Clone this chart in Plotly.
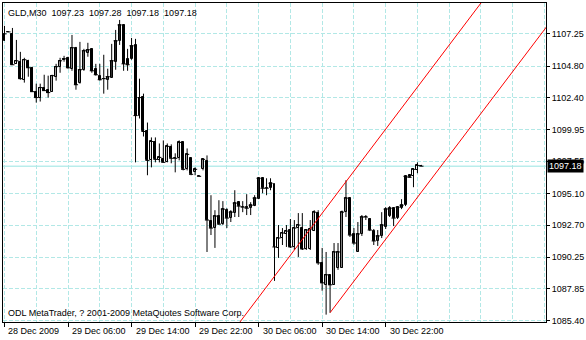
import plotly.graph_objects as go

opens = [1106.72, 1107.40, 1107.25, 1104.97, 1105.13, 1103.76, 1105.20, 1104.67, 1102.85, 1102.40,
         1103.16, 1103.00, 1102.85, 1103.99, 1104.75, 1105.28, 1105.43, 1104.60, 1106.19, 1103.54,
         1104.52, 1105.81, 1106.11, 1104.60, 1104.07, 1103.84, 1103.76, 1103.91, 1105.13, 1106.72,
         1107.93, 1105.35, 1105.35, 1106.41, 1101.03, 1102.47, 1099.82, 1097.62, 1098.99, 1097.62,
         1097.70, 1097.47, 1098.61, 1097.78, 1097.78, 1098.99, 1096.94, 1097.78, 1096.71, 1096.41,
         1096.94, 1097.55, 1093.00, 1092.47, 1093.38, 1092.77, 1093.83, 1093.23, 1093.61, 1094.44,
         1094.06, 1094.06, 1093.98, 1094.14, 1094.67, 1096.26, 1095.50, 1095.50, 1095.81, 1090.96,
         1091.71, 1092.02, 1092.32, 1091.03, 1092.47, 1092.47, 1090.88, 1090.88, 1092.24, 1093.61,
         1089.82, 1088.15, 1088.91, 1088.15, 1089.44, 1089.44, 1093.68, 1094.75, 1092.02, 1090.65,
         1092.02, 1093.31, 1093.16, 1092.24, 1091.49, 1091.87, 1092.55, 1093.38, 1093.98, 1093.23,
         1093.98, 1094.21, 1096.49, 1096.41, 1096.86, 1097.23]
highs = [1107.86, 1107.42, 1107.70, 1106.79, 1105.88, 1105.43, 1105.28, 1104.75, 1103.46, 1103.46,
         1104.14, 1104.07, 1104.14, 1104.97, 1105.43, 1105.58, 1105.51, 1107.17, 1106.26, 1106.64,
         1106.11, 1106.57, 1106.11, 1104.97, 1104.97, 1105.66, 1104.60, 1106.49, 1107.55, 1108.31,
         1108.00, 1106.11, 1106.94, 1106.87, 1103.84, 1102.70, 1100.50, 1099.37, 1099.37, 1098.91,
         1099.14, 1098.91, 1098.84, 1098.16, 1099.14, 1098.99, 1098.53, 1097.78, 1097.09, 1096.45,
         1097.78, 1098.00, 1094.97, 1093.83, 1094.59, 1094.52, 1093.98, 1093.83, 1095.35, 1094.44,
         1094.52, 1095.05, 1094.44, 1094.97, 1096.33, 1096.33, 1096.26, 1096.26, 1095.81, 1092.70,
         1092.47, 1092.70, 1093.16, 1093.08, 1093.61, 1093.61, 1092.40, 1093.08, 1093.83, 1093.83,
         1090.96, 1090.65, 1088.91, 1091.33, 1091.33, 1093.80, 1096.11, 1094.75, 1092.47, 1092.93,
         1093.46, 1093.46, 1093.23, 1092.40, 1092.32, 1093.68, 1094.06, 1094.14, 1094.06, 1094.06,
         1094.67, 1096.49, 1096.56, 1097.02, 1097.47, 1097.28]
lows = [1106.72, 1107.38, 1104.90, 1104.97, 1103.76, 1103.54, 1103.99, 1102.85, 1102.02, 1102.10,
        1102.93, 1102.40, 1102.85, 1103.69, 1104.29, 1105.13, 1104.60, 1104.44, 1103.00, 1103.46,
        1104.44, 1105.51, 1104.29, 1104.07, 1103.69, 1102.70, 1103.00, 1103.91, 1104.52, 1106.41,
        1104.44, 1104.44, 1105.28, 1097.47, 1100.81, 1099.44, 1096.49, 1097.09, 1097.47, 1097.47,
        1097.47, 1097.47, 1097.40, 1096.71, 1097.62, 1096.86, 1096.86, 1096.49, 1096.49, 1096.37,
        1096.86, 1090.65, 1091.94, 1090.96, 1092.70, 1092.70, 1092.47, 1092.93, 1093.31, 1093.31,
        1093.68, 1093.46, 1093.46, 1094.14, 1094.67, 1095.12, 1094.97, 1095.35, 1088.45, 1090.20,
        1091.18, 1091.03, 1090.96, 1090.80, 1090.27, 1090.80, 1090.80, 1090.80, 1092.24, 1089.67,
        1087.70, 1085.88, 1086.03, 1088.15, 1089.29, 1089.44, 1093.31, 1091.79, 1091.20, 1090.65,
        1091.87, 1093.08, 1092.24, 1091.18, 1091.11, 1091.71, 1092.40, 1093.31, 1092.62, 1093.16,
        1093.91, 1094.14, 1096.33, 1095.58, 1096.64, 1097.18]
closes = [1107.25, 1107.40, 1104.90, 1105.20, 1103.84, 1105.28, 1104.67, 1102.85, 1102.40, 1103.16,
          1102.93, 1102.78, 1104.07, 1104.75, 1105.20, 1105.35, 1104.67, 1106.19, 1103.38, 1104.52,
          1105.96, 1106.04, 1104.44, 1104.14, 1103.76, 1103.84, 1103.99, 1105.20, 1106.72, 1107.93,
          1104.97, 1104.90, 1106.34, 1101.03, 1102.40, 1099.82, 1097.62, 1099.06, 1097.70, 1097.85,
          1097.47, 1098.69, 1097.78, 1097.78, 1098.99, 1096.94, 1098.08, 1096.56, 1096.94, 1096.41,
          1097.70, 1093.08, 1092.47, 1093.38, 1092.77, 1093.91, 1093.23, 1093.68, 1094.37, 1094.14,
          1094.06, 1093.98, 1094.21, 1094.75, 1096.26, 1095.50, 1095.50, 1095.88, 1091.03, 1091.71,
          1092.09, 1092.24, 1091.03, 1092.47, 1092.70, 1090.88, 1092.32, 1092.40, 1093.68, 1089.82,
          1088.30, 1088.91, 1088.15, 1090.65, 1090.65, 1093.68, 1094.75, 1091.94, 1091.33, 1092.02,
          1093.31, 1093.31, 1092.32, 1091.49, 1091.87, 1092.70, 1093.91, 1093.98, 1093.23, 1094.06,
          1094.21, 1096.41, 1096.33, 1096.94, 1097.24, 1097.18]
bars = list(range(len(opens)))

time_label_bars = [0, 16, 32, 48, 64, 80, 96]
time_labels = ["28 Dec 2009", "29 Dec 06:00", "29 Dec 14:00", "29 Dec 22:00",
               "30 Dec 06:00", "30 Dec 14:00", "30 Dec 22:00"]
price_ticks = [1107.25, 1104.80, 1102.40, 1099.95, 1097.55, 1095.10, 1092.70, 1090.25, 1087.85, 1085.40]
price_labels = ["1107.25", "1104.80", "1102.40", "1099.95", "1097.55", "1095.10", "1092.70",
                "1090.25", "1087.85", "1085.40"]

channel_upper_bars = [55, 125]
channel_upper_vals = [1083.60, 1111.60]
channel_lower_bars = [82, 137]
channel_lower_vals = [1086.03, 1107.98]

last_price = 1097.18
title_text = "GLD,M30&nbsp;&nbsp;1097.23&nbsp;&nbsp;1097.28&nbsp;&nbsp;1097.18&nbsp;&nbsp;1097.18"
copyright_text = "ODL MetaTrader, ? 2001-2009 MetaQuotes Software Corp."

FONT = "Liberation Sans, Arial, sans-serif"
GRID = "#b2e8e6"
DASH = "4px,2px"

# derived drawing tables (built from the OHLC lists above)
body_base = [min(o, c) for o, c in zip(opens, closes)]
body_len = [abs(c - o) for o, c in zip(opens, closes)]
body_fill = ["white" if c >= o else "black" for o, c in zip(opens, closes)]
wick_x, wick_y = [], []
for b, h, l in zip(bars, highs, lows):
    wick_x += [b, b, None]
    wick_y += [l, h, None]

fig = go.Figure()
fig.add_trace(go.Scatter(x=wick_x, y=wick_y, mode="lines", line=dict(color="black", width=1),
                         showlegend=False, hoverinfo="skip"))
fig.add_trace(go.Bar(x=bars, y=body_len, base=body_base, width=0.5,
                     marker=dict(color=body_fill, line=dict(color="black", width=1)),
                     showlegend=False, hoverinfo="skip"))
fig.add_trace(go.Scatter(x=bars, y=closes, mode="markers",
                         marker=dict(symbol="line-ew", size=3, line=dict(color="black", width=1)),
                         showlegend=False, hoverinfo="skip"))
fig.add_trace(go.Scatter(x=channel_upper_bars, y=channel_upper_vals, mode="lines",
                         line=dict(color="red", width=1), showlegend=False, hoverinfo="skip"))
fig.add_trace(go.Scatter(x=channel_lower_bars, y=channel_lower_vals, mode="lines",
                         line=dict(color="red", width=1), showlegend=False, hoverinfo="skip"))

fig.add_shape(type="line", xref="paper", x0=0, x1=1, yref="y", y0=last_price, y1=last_price,
              line=dict(color="#98e4e2", width=1), layer="below")

annotations = []
for b, t in zip(time_label_bars, time_labels):
    annotations.append(dict(x=b, y=0, xref="x", yref="paper", text=t, showarrow=False,
                            xanchor="left", yanchor="top", xshift=2, yshift=-2,
                            font=dict(family=FONT, size=9, color="black")))
annotations.append(dict(x=0, y=1, xref="paper", yref="paper", text=title_text, showarrow=False,
                        xanchor="left", yanchor="top", xshift=3, yshift=-3,
                        font=dict(family=FONT, size=9, color="black")))
annotations.append(dict(x=0, y=0, xref="paper", yref="paper", text=copyright_text, showarrow=False,
                        xanchor="left", yanchor="bottom", xshift=3, yshift=2,
                        font=dict(family=FONT, size=9, color="black")))
annotations.append(dict(x=1, y=last_price, xref="paper", yref="y", text=str(last_price), showarrow=False,
                        xanchor="left", yanchor="middle", xshift=1, bgcolor="black", borderpad=1,
                        font=dict(family=FONT, size=9, color="white")))

fig.update_layout(
    width=586, height=340,
    margin=dict(l=2, r=37, t=2, b=18),
    paper_bgcolor="white", plot_bgcolor="white",
    font=dict(family=FONT, size=9, color="black"),
    annotations=annotations,
    bargap=0,
    xaxis=dict(
        range=[-0.375, 136.375],
        tickmode="array", tickvals=time_label_bars, ticktext=[""] * len(time_label_bars),
        showticklabels=False, ticks="outside", ticklen=4, tickcolor="black",
        showgrid=True, gridcolor=GRID, griddash=DASH, gridwidth=1,
        minor=dict(tickmode="linear", tick0=0, dtick=8, showgrid=True, gridcolor=GRID,
                   griddash=DASH, ticks=""),
        showline=True, linecolor="black", linewidth=1, mirror=True, zeroline=False,
    ),
    yaxis=dict(
        range=[1085.32, 1109.60], side="right",
        tickmode="array", tickvals=price_ticks, ticktext=price_labels,
        ticks="outside", ticklen=3, tickcolor="black",
        showgrid=True, gridcolor=GRID, griddash=DASH, gridwidth=1,
        showline=True, linecolor="black", linewidth=1, mirror=True, zeroline=False,
        tickfont=dict(family=FONT, size=9, color="black"),
    ),
)

fig.write_html("out.html")
